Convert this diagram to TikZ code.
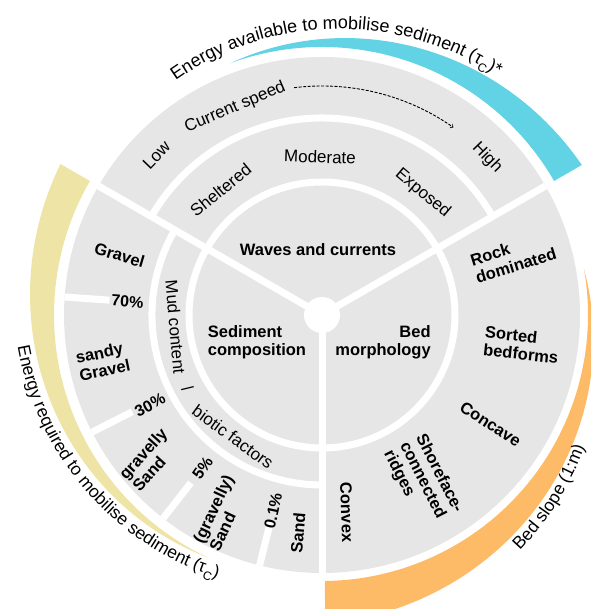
\documentclass[tikz,border=0pt]{standalone}
\usepackage{fontspec}
\setmainfont{Liberation Sans}
\usepackage{tikz}
\usetikzlibrary{decorations.text}
\definecolor{ringgray}{RGB}{230,230,230}
\definecolor{energycyan}{RGB}{98,211,228}
\definecolor{energyyellow}{RGB}{238,228,166}
\definecolor{slopeorange}{RGB}{253,187,104}
\tikzset{
    gap/.style={draw=white, line width=7pt},                 % white separators between the fields
    sector/.style={font=\fontsize{16.5}{18}\selectfont\bfseries, align=left},
    zone/.style={font=\fontsize{16.5}{18}\selectfont\bfseries, align=left, inner sep=1pt},
    scalelabel/.style={font=\fontsize{17}{19}\selectfont, inner sep=1pt},
    cut/.style={font=\fontsize{16}{18}\selectfont\bfseries, inner sep=1pt},
    speedarrow/.style={->, >=to, dash pattern=on 3pt off 1.5pt, line width=0.9pt},
    rim/.style={decorate, decoration={text along path, text={#1}}},
}

\begin{document}
\begin{tikzpicture}[x=1pt, y=1pt]
\useasboundingbox (-322,-294) rectangle (269,315);
\clip (-322,-294) rectangle (269,315);

% tapered bands round the wheel
\fill[energycyan] plot[domain=110:30, samples=60] (\x:{268+0.4*(110-\x)})
    -- (30:268) arc[start angle=30, end angle=110, radius=268] -- cycle;
\fill[energyyellow] plot[domain=150:245, samples=60] (\x:{268+0.358*(245-\x)})
    arc[start angle=245, end angle=150, radius=268] -- cycle;
\fill[slopeorange] plot[domain=10:-89.4, samples=60] (\x:{266+0.43*(10-\x)})
    -- (-89.4:266) arc[start angle=-89.4, end angle=10, radius=266] -- cycle;

% the wheel
\fill[ringgray] (0,0) circle[radius=258];
\draw[gap] (0,0) circle[radius=133];
\draw[gap] (30:197) arc[start angle=30, end angle=150, radius=197];
\draw[gap] (150:170) arc[start angle=150, end angle=270, radius=170];
\foreach \a in {30,150,270}
    \draw[gap] (0,0) -- (\a:258);
\foreach \a in {176,207,232,256}
    \draw[gap] (\a:258) -- (\a:213);
\fill[white] (0,0) circle[radius=18];

% waves and currents
\node[sector] (waves) at (-4,65) {Waves and currents};
\node[scalelabel, rotate=-2] (moderate) at (-2,158) {Moderate};
\node[scalelabel, rotate=39] (sheltered) at (129:161) {Sheltered};
\node[scalelabel, rotate=-40] (exposed) at (50.4:158) {Exposed};
\node[scalelabel, rotate=46] (low) at (136:230) {Low};
\node[scalelabel, rotate=23] (speed) at (112.7:225) {Current speed};
\node[scalelabel, rotate=-46] (high) at (43.6:228) {High};
\coordinate (speed end) at (97:229);
\draw[speedarrow] (speed end) arc[start angle=97, end angle=55, radius=229];

% sediment composition
\node[sector] (sediment) at (-65,-27) {Sediment\\composition};
\node[scalelabel, rotate=-85] (mud) at (184.7:147) {Mud content};
\node[scalelabel, rotate=-61] (slash) at (208.6:153) {/};
\node[scalelabel, rotate=-36] (biotic) at (233.9:151) {biotic factors};
\node[zone, rotate=-16.5] (gravel) at (163.5:211) {Gravel};
\node[cut, rotate=-4] (seventy) at (176:195) {70\%};
\node[zone, rotate=12] (sandygravel) at (192:224) {sandy\\Gravel};
\node[cut, rotate=27.6] (thirty) at (207.6:194) {30\%};
\node[zone, rotate=48] (gravellysand) at (220:225) {gravelly\\Sand};
\node[cut, rotate=55] (five) at (232:194) {5\%};
\node[zone, rotate=65] (sandish) at (243:222) {(gravelly)\\Sand};
\node[cut, rotate=78] (pointone) at (256:202) {0.1\%};
\node[zone, rotate=85] (sand) at (263.7:219) {Sand};

% bed morphology
\node[sector, align=right] (bed) at (61,-27) {Bed\\morphology};
\node[zone, rotate=17] (rock) at (16.9:200) {Rock\\dominated};
\node[zone, rotate=-6] (sorted) at (-8.5:202) {Sorted\\bedforms};
\node[zone, rotate=-33] (concave) at (-33:201) {Concave};
\node[zone, rotate=-63] (ridges) at (-58.8:195) {Shoreface-\\connected\\ridges};
\node[zone, rotate=-88] (convex) at (-82.8:199) {Convex};

% captions along the rim
\path[rim={|\fontsize{18}{20}\selectfont|Energy available to mobilise sediment ({τ\raisebox{-0.3em}{\fontsize{12}{12}\selectfont C}})*}]
    plot[domain=122:46, samples=90] (\x:{276+0.3*(122-\x)});
\path[rim={|\fontsize{17.5}{19}\selectfont|Energy required to mobilise sediment ({τ\raisebox{-0.3em}{\fontsize{12}{12}\selectfont C}})}]
    plot[domain=186:256, samples=90] (\x:{306-0.37*(\x-186)});
\path[rim={|\fontsize{17.5}{19}\selectfont|Bed slope (1:m)}]
    plot[domain=-50:-17, samples=60] (\x:{308-0.6*(\x+50)});

\end{tikzpicture}
\end{document}
